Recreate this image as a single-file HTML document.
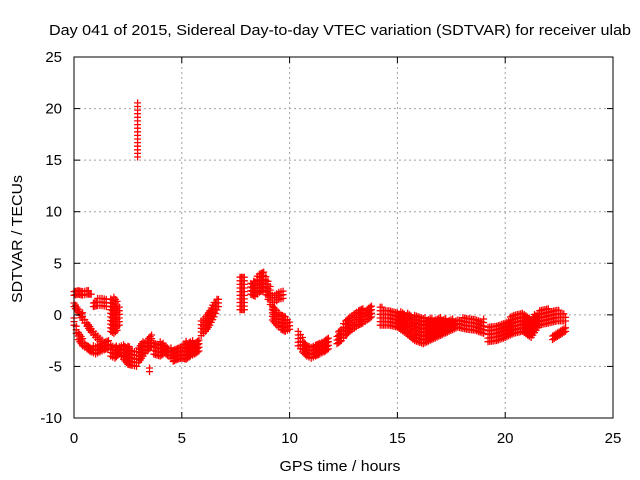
<!DOCTYPE html>
<html><head><meta charset="utf-8"><style>
body{margin:0;background:#fff}
svg{display:block;font-family:"Liberation Sans",sans-serif;font-size:15px}
</style></head><body>
<svg id="c" width="640" height="480">
<text x="340" y="35" text-anchor="middle" font-size="15" textLength="582" lengthAdjust="spacingAndGlyphs">Day 041 of 2015, Sidereal Day-to-day VTEC variation (SDTVAR) for receiver ulab</text>
<text x="340" y="471" text-anchor="middle" font-size="15" textLength="121" lengthAdjust="spacingAndGlyphs">GPS time / hours</text>
<text transform="translate(22,239) rotate(-90)" text-anchor="middle" font-size="15" textLength="128" lengthAdjust="spacingAndGlyphs">SDTVAR / TECUs</text>
<g id="grid"></g><g id="marks"></g><g id="axes"></g>
</svg>
<script>
const xTicks=[0,5,10,15,20,25];
const yTicks=[-10,-5,0,5,10,15,20,25];
// each segment: times, lower bound, upper bound of the point cloud
const seg1T=[0,0.2,0.4,0.6,0.8],seg1Lo=[1.9,2.0,1.9,2.0,2.0],seg1Hi=[2.4,2.4,2.3,2.4,2.3];
const seg2T=[0,0.2,0.4,0.6,0.8,1.0,1.2,1.4],seg2Lo=[0.8,0.2,-0.5,-1.1,-1.7,-2.2,-2.6,-3.0],seg2Hi=[1.3,0.8,0.2,-0.5,-1.1,-1.6,-2.0,-2.4];
const seg3T=[0,0.1,0.2,0.4,0.6,0.8,1.0,1.2,1.4,1.6],seg3Lo=[-1.0,-1.8,-2.4,-3.0,-3.3,-3.6,-3.8,-3.6,-3.4,-3.2],seg3Hi=[-0.2,-0.8,-1.5,-2.2,-2.8,-3.0,-3.0,-2.8,-2.6,-2.4];
const seg4T=[0.9,1.1,1.3,1.5],seg4Lo=[0.8,0.9,0.9,0.8],seg4Hi=[1.4,1.6,1.8,1.5];
const seg5T=[1.7,1.85,2.0,2.1],seg5Lo=[-1.6,-1.8,-1.5,-1.0],seg5Hi=[1.6,1.8,1.4,0.8];
const seg6T=[1.7,1.9,2.1],seg6Lo=[-4.0,-4.2,-3.8],seg6Hi=[-2.8,-3.0,-3.0];
const seg7T=[2.1,2.3,2.5,2.7,2.9,3.0],seg7Lo=[-3.8,-4.3,-4.8,-4.9,-5.0,-4.6],seg7Hi=[-3.0,-2.8,-3.0,-3.2,-3.5,-3.3];
const seg8T=[3.0,3.2,3.4,3.6],seg8Lo=[-4.6,-4.0,-3.5,-3.0],seg8Hi=[-3.2,-2.6,-2.2,-1.8];
const seg9T=[3.5],seg9Lo=[-5.5],seg9Hi=[-5.0];
const seg10T=[3.7,4.0,4.2,4.4,4.6,4.8,5.0,5.2,5.4,5.6,5.8],seg10Lo=[-3.8,-4.0,-3.7,-4.0,-4.5,-4.3,-4.2,-4.3,-4.0,-3.8,-3.5],seg10Hi=[-2.5,-2.6,-2.8,-3.0,-3.2,-3.0,-3.0,-2.5,-2.4,-2.6,-2.2];
const seg11T=[5.9,6.1,6.3,6.5,6.7],seg11Lo=[-2.0,-1.6,-1.0,-0.2,0.8],seg11Hi=[-0.5,0.0,0.6,1.2,1.8];
const seg12T=[7.7,7.9],seg12Lo=[0.5,0.5],seg12Hi=[3.9,3.9];
const seg13T=[8.2,8.4,8.6,8.8,9.0,9.2],seg13Lo=[2.0,1.8,2.2,2.4,1.5,0.5],seg13Hi=[3.2,3.5,4.0,4.3,3.5,2.0];
const seg14T=[9.3,9.5,9.7],seg14Lo=[1.2,1.5,1.6],seg14Hi=[2.0,2.2,2.4];
const seg15T=[9.2,9.4,9.6,9.8,10.0],seg15Lo=[-0.5,-1.0,-1.4,-1.6,-1.4],seg15Hi=[0.8,0.6,0.2,-0.2,-0.4];
const seg16T=[10.4,10.6,10.8,11.0,11.2,11.4,11.6,11.8],seg16Lo=[-3.0,-3.6,-4.0,-4.2,-4.0,-3.8,-3.6,-3.3],seg16Hi=[-1.6,-2.2,-2.8,-3.0,-2.8,-2.6,-2.4,-2.2];
const seg17T=[12.2,12.4,12.6,12.8,13.0,13.2,13.4,13.6,13.8],seg17Lo=[-2.8,-2.5,-2.0,-1.6,-1.3,-1.0,-0.8,-0.5,-0.2],seg17Hi=[-1.8,-1.2,-0.5,0,0.2,0.4,0.6,0.8,1.0];
const seg18T=[14.2,14.6,15.0,15.4,15.8,16.2,16.6,17.0,17.4,17.8,18.2,18.6,19.0],seg18Lo=[-1.0,-1.0,-1.2,-1.8,-2.5,-2.8,-2.4,-2.0,-1.6,-1.2,-1.4,-1.5,-1.8],seg18Hi=[0.8,0.6,0.4,0.2,0,-0.2,-0.3,-0.2,-0.4,-0.3,-0.2,-0.2,-0.4];
const seg19T=[19.2,19.6,20.0,20.4,20.8,21.2,21.6,22.0,22.4,22.8],seg19Lo=[-2.6,-2.5,-2.2,-1.8,-1.6,-2.2,-1.0,-0.8,-0.6,-0.6],seg19Hi=[-1.0,-1.0,-0.8,0.2,0.4,-0.2,0.4,0.6,0.6,0.0];
const seg20T=[22.2,22.5,22.8],seg20Lo=[-2.4,-2.0,-1.6],seg20Hi=[-1.8,-1.4,-1.0];
const seg21T=[2.95],seg21Lo=[15.3],seg21Hi=[20.6];
const segments=[[seg1T,seg1Lo,seg1Hi],[seg2T,seg2Lo,seg2Hi],[seg3T,seg3Lo,seg3Hi],[seg4T,seg4Lo,seg4Hi],[seg5T,seg5Lo,seg5Hi],[seg6T,seg6Lo,seg6Hi],[seg7T,seg7Lo,seg7Hi],[seg8T,seg8Lo,seg8Hi],[seg9T,seg9Lo,seg9Hi],[seg10T,seg10Lo,seg10Hi],[seg11T,seg11Lo,seg11Hi],[seg12T,seg12Lo,seg12Hi],[seg13T,seg13Lo,seg13Hi],[seg14T,seg14Lo,seg14Hi],[seg15T,seg15Lo,seg15Hi],[seg16T,seg16Lo,seg16Hi],[seg17T,seg17Lo,seg17Hi],[seg18T,seg18Lo,seg18Hi],[seg19T,seg19Lo,seg19Hi],[seg20T,seg20Lo,seg20Hi],[seg21T,seg21Lo,seg21Hi]];

const L=74,R=613,T=57,B=418;
const X=t=>L+(t-0)/25*(R-L);
const Y=v=>B-(v+10)/35*(B-T);
const NS="http://www.w3.org/2000/svg";
function mk(tag,attrs,parent){const e=document.createElementNS(NS,tag);for(const k in attrs)e.setAttribute(k,attrs[k]);parent.appendChild(e);return e;}
const grid=document.getElementById('grid'),axes=document.getElementById('axes'),marks=document.getElementById('marks');
xTicks.forEach(t=>{
  if(t>0&&t<25){const g=mk('line',{x1:X(t),x2:X(t),y1:T,y2:B,stroke:'#a0a0a0','stroke-dasharray':'2,3'},grid);
  
  }
  mk('line',{x1:X(t),x2:X(t),y1:B,y2:B-6,stroke:'#000'},axes);
  mk('line',{x1:X(t),x2:X(t),y1:T,y2:T+6,stroke:'#000'},axes);
  const tx=mk('text',{x:X(t),y:B+25,'text-anchor':'middle'},axes);tx.textContent=t;
  
  
});
yTicks.forEach(v=>{
  if(v>-10&&v<25){const g=mk('line',{x1:L,x2:R,y1:Y(v),y2:Y(v),stroke:'#a0a0a0','stroke-dasharray':'2,3'},grid);
  
  }
  mk('line',{x1:L,x2:L+6,y1:Y(v),y2:Y(v),stroke:'#000'},axes);
  mk('line',{x1:R,x2:R-6,y1:Y(v),y2:Y(v),stroke:'#000'},axes);
  const tx=mk('text',{x:L-12,y:Y(v)+5,'text-anchor':'end'},axes);tx.textContent=v;
  
  
});
const fr=mk('rect',{x:L,y:T,width:R-L,height:B-T,fill:'none',stroke:'#000'},axes);


let d='';
function plus(t,v){const x=X(t),y=Y(v);d+=`M${(x-3.5).toFixed(1)} ${y.toFixed(1)}h7M${x.toFixed(1)} ${(y-3.5).toFixed(1)}v7`;}
function band(t,lo,hi){for(let v=lo;v<=hi+0.01;v+=0.35)plus(t,v);}
segments.forEach(([ts,lo,hi])=>{
  for(let i=0;i<ts.length;i++){
    band(ts[i],lo[i],hi[i]);
    if(i+1<ts.length){const n=Math.max(1,Math.round((ts[i+1]-ts[i])/0.08));
      for(let k=1;k<n;k++){const f=k/n;band(ts[i]+f*(ts[i+1]-ts[i]),lo[i]+f*(lo[i+1]-lo[i]),hi[i]+f*(hi[i+1]-hi[i]));}}
  }
});
const p=mk('path',{d:d,stroke:'#ff0000','stroke-width':1.3,fill:'none'},marks);


</script>
</body></html>
